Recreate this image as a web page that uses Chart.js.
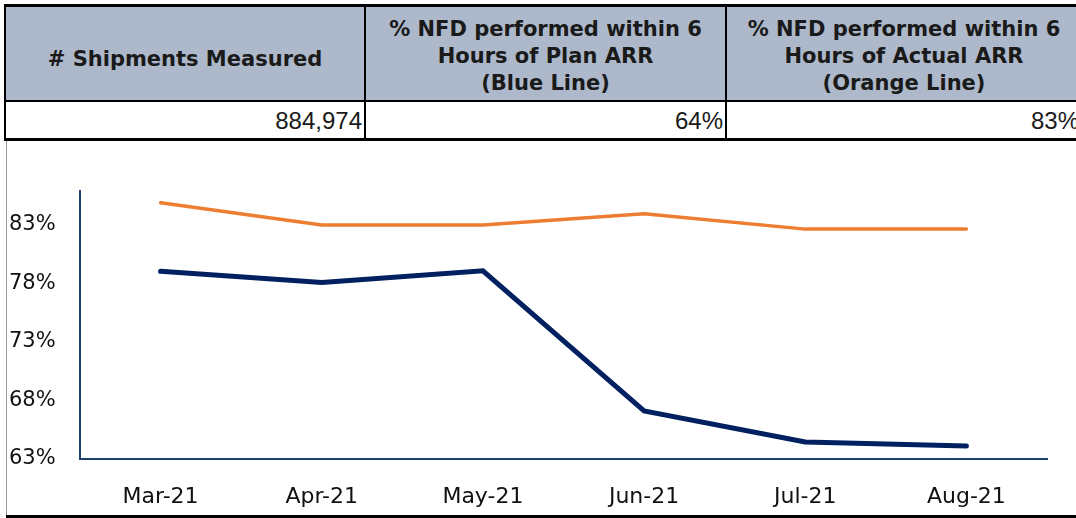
<!DOCTYPE html>
<html>
<head>
<meta charset="utf-8">
<script src="https://cdn.jsdelivr.net/npm/chart.js"></script>
<style>
  html, body { margin: 0; padding: 0; background: #fff; overflow: hidden; }
  body { width: 1076px; height: 518px; position: relative; }
  .cell { position: absolute; box-sizing: border-box; color: #1a1a1a; }
  .head { background: #adb9ca; font-family: "DejaVu Sans", sans-serif; font-weight: bold;
          font-size: 21px; line-height: 27px; text-align: center; }
  .val { font-family: "Liberation Sans", sans-serif; font-size: 24px; text-align: right;
         padding-right: 3px; line-height: 40px; }
  .line { position: absolute; background: #000; }
  #box { position: absolute; left: 6px; top: 141px; width: 1070px; height: 376px;
         border-left: 1px solid #9a9a9a; box-sizing: border-box; }
  #wrap { position: absolute; left: 7px; top: 142px; width: 1069px; height: 372px; }
</style>
</head>
<body>
<div class="cell head" style="left:5px;top:5px;width:360px;height:96px;padding-top:41px">
  # Shipments Measured</div>
<div class="cell head" style="left:365px;top:5px;width:361px;height:96px;padding-top:11px">
  % NFD performed within 6<br>Hours of Plan ARR<br>(Blue Line)</div>
<div class="cell head" style="left:726px;top:5px;width:356px;height:96px;padding-top:11px">
  % NFD performed within 6<br>Hours of Actual ARR<br>(Orange Line)</div>

<div class="cell val" style="left:5px;top:101px;width:360px;height:39px">884,974</div>
<div class="cell val" style="left:365px;top:101px;width:361px;height:39px">64%</div>
<div class="cell val" style="left:726px;top:101px;width:356px;height:39px">83%</div>

<div class="line" style="left:4px;top:4px;width:1080px;height:3px"></div>
<div class="line" style="left:4px;top:4px;width:2px;height:137px"></div>
<div class="line" style="left:364px;top:4px;width:2px;height:137px"></div>
<div class="line" style="left:725px;top:4px;width:2px;height:137px"></div>
<div class="line" style="left:4px;top:100px;width:1080px;height:2px"></div>
<div class="line" style="left:4px;top:138px;width:1080px;height:3px"></div>

<div id="box"></div>
<div class="line" style="left:6px;top:515px;width:1076px;height:3px"></div>
<div id="wrap"><canvas id="CNfd"></canvas></div>

<script>
// meses e percentuais
const meses = ["Mar-21", "Apr-21", "May-21", "Jun-21", "Jul-21", "Aug-21"]
const planArr = [79.0, 78.05, 79.05, 67.1, 64.45, 64.1]
const actualArr = [84.85, 82.95, 82.95, 83.9, 82.6, 82.6]
const yTicks = [63, 68, 73, 78, 83]
const yMin = 63
const yMax = 85.85

const axisColor = "#1f3f6e"

new Chart(document.getElementById("CNfd"), {
    type: "line",
    data: {
        labels: meses,
        datasets: [{
            label: "Plan ARR",
            data: planArr,
            borderColor: "#002060",
            borderWidth: 5,
            borderCapStyle: "round",
            pointRadius: 0,
            tension: 0
        }, {
            label: "Actual ARR",
            data: actualArr,
            borderColor: "#ed7d31",
            borderWidth: 3.5,
            borderCapStyle: "round",
            pointRadius: 0,
            tension: 0
        }]
    },
    options: {
        maintainAspectRatio: false,
        animation: false,
        events: [],
        layout: { padding: { top: 49, right: 29, left: 2, bottom: 0 } },
        plugins: { legend: { display: false }, tooltip: { enabled: false } },
        scales: {
            x: {
                offset: true,
                grid: { display: false },
                border: { color: axisColor, width: 2 },
                ticks: { color: "#111", padding: 17, maxRotation: 0,
                         font: { family: "DejaVu Sans", size: 22 } },
                afterFit: s => { s.height = 55 }
            },
            y: {
                min: yMin,
                max: yMax,
                grid: { display: false },
                border: { color: axisColor, width: 2 },
                afterBuildTicks: s => { s.ticks = yTicks.map(v => ({ value: v })) },
                ticks: { color: "#111", crossAlign: "far",
                         font: { family: "DejaVu Sans", size: 21 },
                         callback: v => v + "%" },
                afterFit: s => { s.width = 71 }
            }
        }
    }
})
</script>
</body>
</html>
